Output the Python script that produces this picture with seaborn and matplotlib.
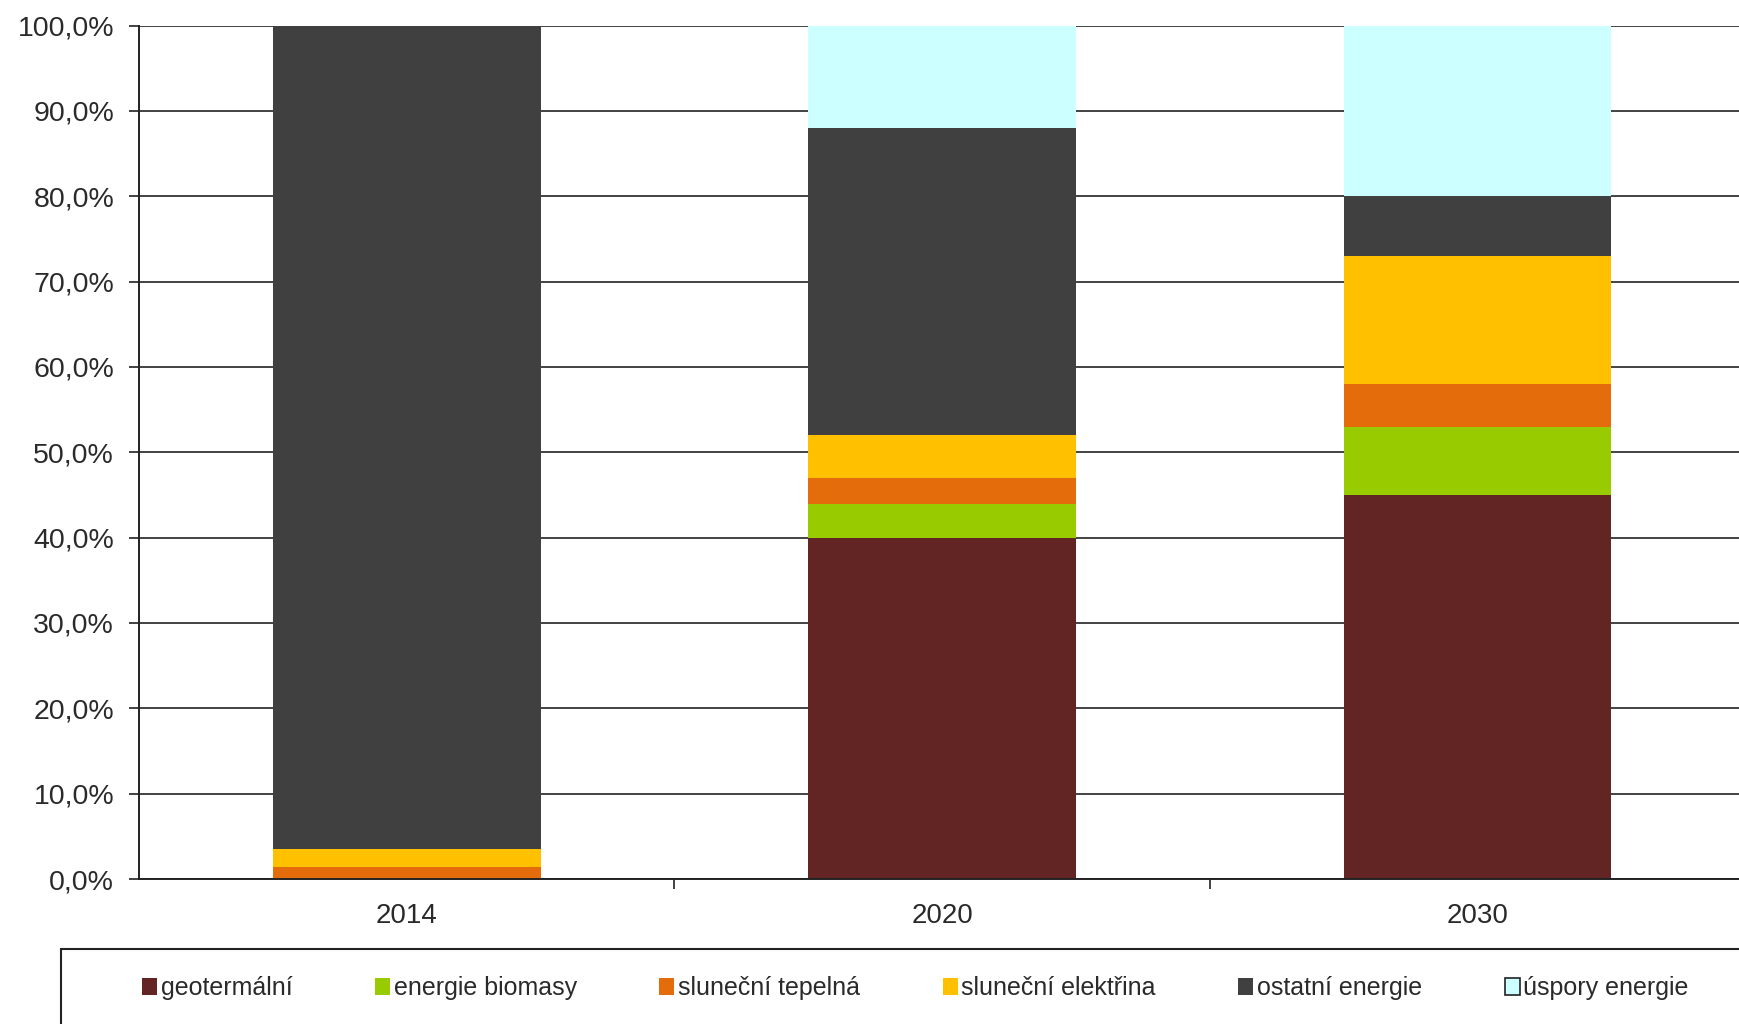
import matplotlib
matplotlib.use("Agg")
import matplotlib.pyplot as plt
from matplotlib.patches import Patch, Rectangle
from matplotlib.ticker import FuncFormatter, MultipleLocator, FixedLocator
import numpy as np
import pandas as pd
import seaborn as sns

# DATA (share of total, %)
years = ["2014", "2020", "2030"]
series = ["geotermální", "energie biomasy", "sluneční tepelná",
          "sluneční elektřina", "ostatní energie", "úspory energie"]
geotermalni = [0.0, 40.0, 45.0]
biomasa = [0.0, 4.0, 8.0]
tepelna = [1.4, 3.0, 5.0]
elektrina = [2.1, 5.0, 15.0]
ostatni = [96.5, 36.0, 7.0]
uspory = [0.0, 12.0, 20.0]
colors = ["#632523", "#99CC00", "#E46C0A", "#FFC000", "#404040", "#CCFFFF"]

values = [geotermalni, biomasa, tepelna, elektrina, ostatni, uspory]
rows = []
for name, vals in zip(series, values):
    for i, v in enumerate(vals):
        rows.append({"pos": i, "series": name, "value": v})
df = pd.DataFrame(rows)

sns.set_style("white")
plt.rcParams["font.family"] = ["Liberation Sans", "DejaVu Sans"]
text_color = "#2a2a2a"

fig = plt.figure(figsize=(17.4, 10.24), dpi=100)
ax = fig.add_axes([0.0799, 0.1416, 0.9231, 0.8334])

# seaborn stacks the first hue level on top, so reverse the order
sns.histplot(data=df, x="pos", hue="series", weights="value",
             multiple="stack", discrete=True, shrink=0.5,
             hue_order=series[::-1], palette=dict(zip(series, colors)),
             alpha=1, linewidth=0, legend=False, ax=ax)

ax.set_xlim(-0.5, 2.5)
ax.set_ylim(0, 100)
ax.set_xlabel("")
ax.set_ylabel("")

# y axis
ax.yaxis.set_major_locator(MultipleLocator(10))
ax.yaxis.set_major_formatter(FuncFormatter(lambda v, p: f"{v:.1f}%".replace(".", ",")))
ax.grid(axis="y", color="#222222", linewidth=1.2)
ax.grid(axis="x", visible=False)
ax.set_axisbelow(True)

# x axis: labels at centres, tick marks between categories
ax.set_xticks(range(len(years)))
ax.set_xticklabels(years)
ax.xaxis.set_minor_locator(FixedLocator([0.5, 1.5, 2.5]))
ax.tick_params(axis="x", which="major", length=0, pad=17, labelsize=20, labelcolor=text_color)
ax.tick_params(axis="x", which="minor", length=7, width=1.2, color="#222222", direction="out", bottom=True)
ax.tick_params(axis="y", which="major", length=7, width=1.2, color="#222222", direction="out",
               left=True, pad=11, labelsize=20.5, labelcolor=text_color)

for side in ["top", "right"]:
    ax.spines[side].set_visible(False)
for side in ["left", "bottom"]:
    ax.spines[side].set_color("#222222")
    ax.spines[side].set_linewidth(1.4)

# legend
handles = []
for name, c in zip(series, colors):
    if name == "úspory energie":
        handles.append(Patch(facecolor=c, edgecolor="#222222", linewidth=1.2, label=name))
    else:
        handles.append(Patch(facecolor=c, edgecolor="none", label=name))
fig.legend(handles=handles, ncol=6, mode="expand", loc="center",
           bbox_to_anchor=(0.0816, 0.0, 0.889, 0.07), bbox_transform=fig.transFigure,
           frameon=False, fontsize=18, handlelength=0.6, handleheight=0.7,
           handletextpad=0.15, borderaxespad=0, borderpad=0, labelcolor=text_color)
fig.patches.append(Rectangle((0.035, -0.1), 1.0, 0.1732, transform=fig.transFigure,
                             fill=False, edgecolor="#222222", linewidth=1.5))

fig.savefig("out.png", dpi=100, facecolor="white")
